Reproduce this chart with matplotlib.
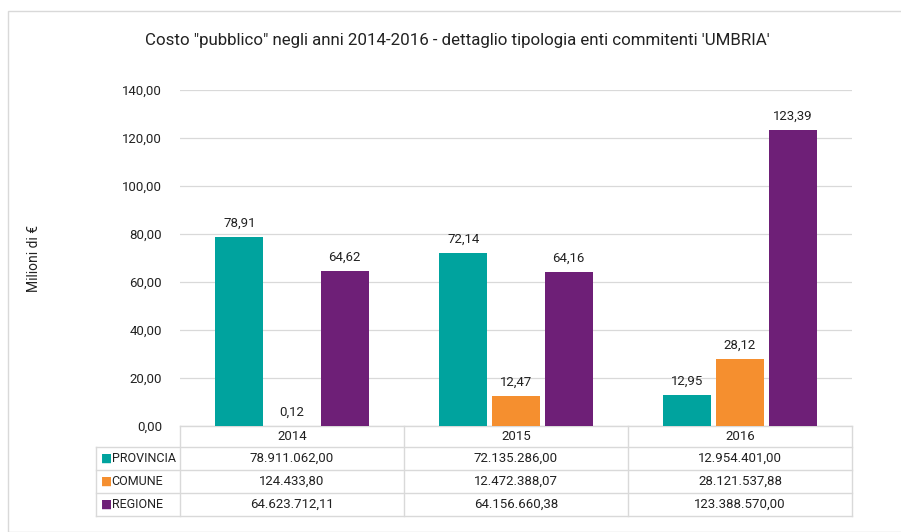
import matplotlib
matplotlib.use("Agg")
import matplotlib.pyplot as plt
import matplotlib.transforms as mtransforms
from matplotlib.patches import Rectangle
import numpy as np

plt.rcParams['font.family'] = ['Roboto', 'DejaVu Sans']

years = ["2014", "2015", "2016"]
series = ["PROVINCIA", "COMUNE", "REGIONE"]
colors = ["#00A39E", "#F58F2F", "#6E1F77"]
provincia = [78.911062, 72.135286, 12.954401]
comune = [0.1244338, 12.47238807, 28.12153788]
regione = [64.62371211, 64.15666038, 123.38857]
table_text = [
    ["78.911.062,00", "72.135.286,00", "12.954.401,00"],
    ["124.433,80", "12.472.388,07", "28.121.537,88"],
    ["64.623.712,11", "64.156.660,38", "123.388.570,00"],
]

def it_fmt(v):
    return f"{v:.2f}".replace(".", ",")

W, H = 901, 532
fig = plt.figure(figsize=(W / 100, H / 100), dpi=100)
fig.patches.append(Rectangle((8 / W, 0), 1, 1 - 11 / H, transform=fig.transFigure,
                             fill=False, edgecolor="#d9d9d9", lw=1))

ax = fig.add_axes([180 / W, 106 / H, 672 / W, 336 / H])
x = np.arange(len(years))
offsets = [-0.235, 0.0, 0.235]
width = 0.215
fs = 9.5
for vals, off, col in zip([provincia, comune, regione], offsets, colors):
    bars = ax.bar(x + off, vals, width, color=col, zorder=3)
    for b, v in zip(bars, vals):
        ax.text(b.get_x() + b.get_width() / 2, v + 3, it_fmt(v), ha="center", va="bottom",
                fontsize=fs, color="#222222")

ax.set_xlim(-0.5, 2.5)
ax.set_ylim(0, 140)
ax.set_yticks(np.arange(0, 141, 20))
ax.set_yticklabels([it_fmt(t) for t in np.arange(0, 141, 20)], fontsize=fs, color="#222222")
ax.tick_params(axis="y", length=0, pad=13)
ax.set_xticks([])
ax.grid(axis="y", color="#d9d9d9", lw=0.9, zorder=0)
for s in ["top", "right", "left", "bottom"]:
    ax.spines[s].set_visible(False)

ax.set_ylabel("Milioni di €", fontsize=10, labelpad=58, color="#222222")

# tabella dati sotto l'asse
tr = mtransforms.blended_transform_factory(ax.transData, ax.transAxes)
row_h = 23 / 336
head_h = 21 / 336
y_rows = [-head_h - row_h * i for i in range(4)]
line_kw = dict(color="#d9d9d9", lw=1, transform=tr, clip_on=False)
x_left = -0.875
ax.plot([-0.5, 2.5], [0, 0], **line_kw)
for yy in y_rows:
    ax.plot([x_left, 2.5], [yy, yy], **line_kw)
for xx in [-0.5, 0.5, 1.5, 2.5]:
    ax.plot([xx, xx], [0, y_rows[-1]], **line_kw)
ax.plot([x_left, x_left], [y_rows[0], y_rows[-1]], **line_kw)

for i, yr in enumerate(years):
    ax.text(i, -head_h / 2, yr, ha="center", va="center", fontsize=fs, transform=tr,
            color="#222222")
for r, (name, col) in enumerate(zip(series, colors)):
    yc = y_rows[r] - row_h / 2
    ax.text(x_left + 0.02, yc, "■", color=col, ha="left", va="center", fontsize=8.5,
            transform=tr, family="DejaVu Sans")
    ax.text(x_left + 0.07, yc, name, ha="left", va="center", fontsize=9, transform=tr,
            color="#222222")
    for i in range(len(years)):
        ax.text(i, yc, table_text[r][i], ha="center", va="center", fontsize=fs,
                transform=tr, color="#222222")

fig.text(457 / W, 1 - 40 / H, "Costo \"pubblico\" negli anni 2014-2016 - dettaglio tipologia enti commitenti 'UMBRIA'",
         ha="center", va="center", fontsize=12.2, color="#222222")

fig.savefig("out.png", dpi=100)
